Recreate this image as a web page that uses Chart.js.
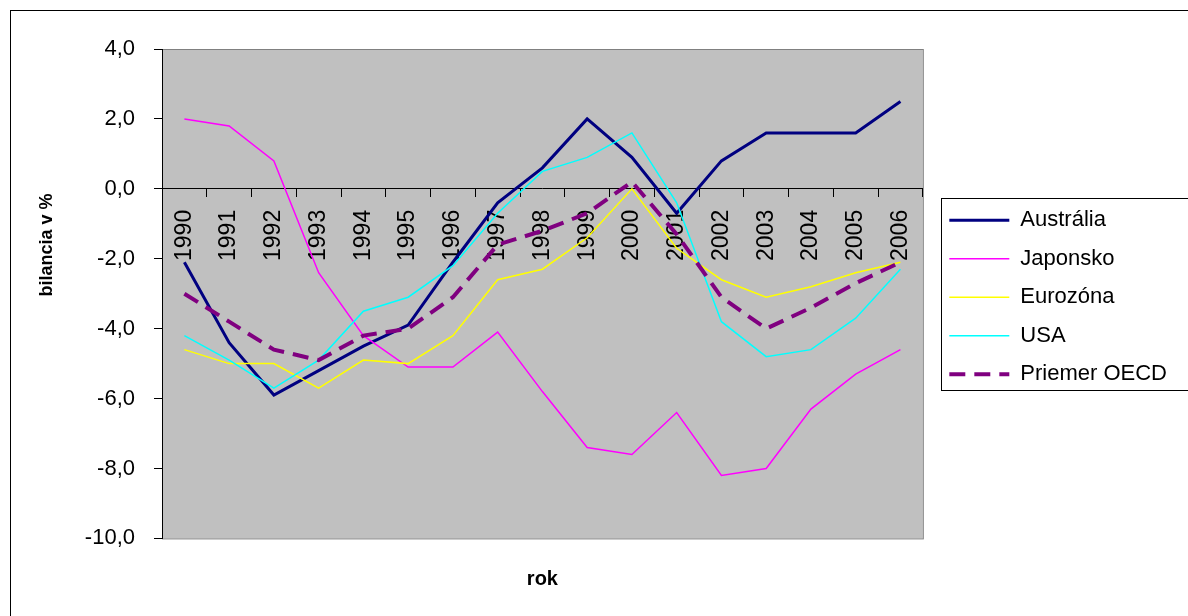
<!DOCTYPE html>
<html lang="sk">
<head>
  <meta charset="UTF-8">
  <title>Bilancia</title>
  <script src="https://cdn.jsdelivr.net/npm/chart.js"></script>
  <style>
    body { margin: 0; background: #fff; }
  </style>
</head>
<body>
  <canvas id="bilancia-chart" width="1188" height="616"></canvas>

  <script>
    // hodnoty odcitane z grafu
    var roky = ['1990', '1991', '1992', '1993', '1994', '1995', '1996', '1997', '1998',
                '1999', '2000', '2001', '2002', '2003', '2004', '2005', '2006'];
    var australia = [-2.1, -4.4, -5.9, -5.2, -4.5, -3.9, -2.1, -0.4, 0.6, 2.0, 0.9, -0.7, 0.8, 1.6, 1.6, 1.6, 2.5];
    var japonsko  = [2.0, 1.8, 0.8, -2.4, -4.2, -5.1, -5.1, -4.1, -5.8, -7.4, -7.6, -6.4, -8.2, -8.0, -6.3, -5.3, -4.6];
    var eurozona  = [-4.6, -5.0, -5.0, -5.7, -4.9, -5.0, -4.2, -2.6, -2.3, -1.4, 0.0, -1.7, -2.6, -3.1, -2.8, -2.4, -2.1];
    var usa       = [-4.2, -4.9, -5.7, -4.9, -3.5, -3.1, -2.2, -0.7, 0.5, 0.9, 1.6, -0.4, -3.8, -4.8, -4.6, -3.7, -2.3];
    var oecd      = [-3.0, -3.8, -4.6, -4.9, -4.2, -4.0, -3.1, -1.6, -1.2, -0.7, 0.2, -1.3, -3.1, -4.0, -3.4, -2.7, -2.1];
    var nazvy = ['Austrália', 'Japonsko', 'Eurozóna', 'USA', 'Priemer OECD'];

    Chart.defaults.font.family = 'Arial, "Liberation Sans", sans-serif';
    Chart.defaults.color = '#000';

    // pozadie, ramiky, nazov osi y
    var ramy = {
      id: 'ramy',
      beforeDraw(chart) {
        const ctx = chart.ctx, a = chart.chartArea;
        ctx.save();
        ctx.fillStyle = '#fff';
        ctx.fillRect(0, 0, chart.width, chart.height);
        ctx.strokeStyle = '#000';
        ctx.lineWidth = 1;
        ctx.strokeRect(10.5, 10.5, chart.width + 20, chart.height + 20);
        ctx.fillStyle = '#c0c0c0';
        ctx.fillRect(a.left, a.top, a.right - a.left, a.bottom - a.top);
        ctx.strokeStyle = '#808080';
        ctx.strokeRect(a.left + 0.5, a.top + 0.5, a.right - a.left, a.bottom - a.top);
        ctx.restore();
      },
      afterLayout(chart) {
        // posun legendy ako v povodnom grafe
        chart.legend.left += 10;
        chart.legend.right += 10;
        chart.legend.top -= 23;
        chart.legend.bottom -= 23;
      },
      afterDraw(chart) {
        const ctx = chart.ctx;
        const hb = chart.legend.legendHitBoxes;
        ctx.save();
        if (hb && hb.length) {
          const top = hb[0].top - 11;
          const last = hb[hb.length - 1];
          const bottom = last.top + last.height + 5;
          ctx.strokeStyle = '#000';
          ctx.lineWidth = 1;
          ctx.strokeRect(Math.round(hb[0].left - 8) + 0.5, Math.round(top) + 0.5, 400, Math.round(bottom - top));
        }
        ctx.translate(47, 245);
        ctx.rotate(-Math.PI / 2);
        ctx.font = 'bold 18px Arial, "Liberation Sans", sans-serif';
        ctx.fillStyle = '#000';
        ctx.textAlign = 'center';
        ctx.textBaseline = 'middle';
        ctx.fillText('bilancia v %', 0, 0);
        ctx.restore();
      }
    };

    let ctxGraf = document.getElementById('bilancia-chart').getContext('2d');
    const graf = new Chart(ctxGraf, {
      type: 'line',
      data: {
        labels: roky,
        datasets: [{
          label: nazvy[0],
          data: australia,
          borderColor: '#000080',
          backgroundColor: '#000080',
          borderWidth: 3,
          order: 4
        }, {
          label: nazvy[1],
          data: japonsko,
          borderColor: '#ff00ff',
          backgroundColor: '#ff00ff',
          borderWidth: 1.5,
          order: 3
        }, {
          label: nazvy[2],
          data: eurozona,
          borderColor: '#ffff00',
          backgroundColor: '#ffff00',
          borderWidth: 1.5,
          order: 2
        }, {
          label: nazvy[3],
          data: usa,
          borderColor: '#00ffff',
          backgroundColor: '#00ffff',
          borderWidth: 1.5,
          order: 1
        }, {
          label: nazvy[4],
          data: oecd,
          borderColor: '#800080',
          backgroundColor: '#800080',
          borderWidth: 4,
          borderDash: [16, 9],
          order: 0
        }]
      },
      options: {
        responsive: false,
        animation: false,
        elements: {
          point: { radius: 0, hoverRadius: 0 },
          line: { tension: 0, fill: false }
        },
        layout: {
          padding: { top: 49, left: 0, right: 21, bottom: 24.6 }
        },
        scales: {
          x: {
            type: 'category',
            offset: true,
            position: { y: 0 },
            grid: { offset: true, drawOnChartArea: false, drawTicks: true, tickLength: 8, color: '#000' },
            border: { color: '#000', width: 1 },
            ticks: {
              autoSkip: false,
              minRotation: 90,
              maxRotation: 90,
              padding: 13,
              font: { size: 23 },
              color: '#000'
            },
            afterFit: function (scale) { scale.height = 0; }
          },
          y: {
            min: -10,
            max: 4,
            grid: { drawOnChartArea: false, drawTicks: true, tickLength: 8, color: '#000' },
            border: { color: '#000', width: 1 },
            ticks: {
              stepSize: 2,
              padding: 19,
              font: { size: 22 },
              color: '#000',
              callback: function (v) { return v.toFixed(1).replace('.', ','); }
            },
            afterFit: function (scale) { scale.width = 162; }
          }
        },
        plugins: {
          tooltip: { enabled: false },
          title: {
            display: true,
            text: 'rok',
            position: 'bottom',
            fullSize: false,
            font: { size: 20, weight: 'bold' },
            color: '#000',
            padding: { top: 29, bottom: 0 }
          },
          legend: {
            position: 'right',
            align: 'center',
            labels: {
              usePointStyle: true,
              pointStyleWidth: 60,
              padding: 16.5,
              font: { size: 22 },
              color: '#000',
              sort: function (a, b) { return a.datasetIndex - b.datasetIndex; },
              generateLabels: function (chart) {
                const items = Chart.defaults.plugins.legend.labels.generateLabels(chart);
                items.forEach(function (it) {
                  const ds = chart.data.datasets[it.datasetIndex];
                  it.pointStyle = 'line';
                  it.lineWidth = ds.borderWidth;
                  it.lineDash = ds.borderDash || [];
                  it.strokeStyle = ds.borderColor;
                  it.fillStyle = ds.borderColor;
                });
                return items;
              }
            }
          }
        }
      },
      plugins: [ramy]
    });
  </script>
</body>
</html>
